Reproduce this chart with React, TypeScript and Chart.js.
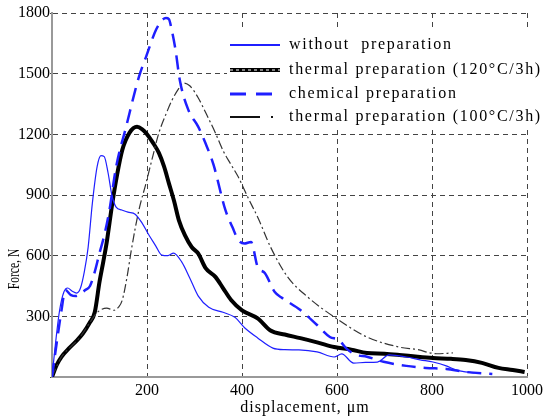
import React, { useEffect, useRef } from "react";
import { Chart, registerables } from "chart.js";

Chart.register(...registerables);

// ---- data (displacement in µm, force in N) ----
const withoutX = [0, 8, 16, 25, 33, 42, 52, 60, 68, 76, 85, 95, 103, 110, 118, 126, 135, 147, 160, 175, 190, 204, 218, 231, 244, 256, 273, 290, 308, 330, 360, 385, 406, 433, 465, 490, 520, 558, 594, 610, 635, 660, 685, 710, 746, 775, 802, 830, 850, 870, 890];
const withoutY = [0, 180, 330, 420, 440, 425, 415, 440, 520, 640, 860, 1040, 1095, 1090, 1010, 900, 840, 826, 815, 805, 760, 702, 650, 603, 600, 613, 569, 490, 400, 345, 320, 295, 242, 193, 143, 135, 134, 124, 99, 114, 69, 72, 74, 109, 99, 85, 74, 55, 35, 25, 20];

const thermal120X = [0, 10, 20, 35, 50, 65, 79, 90, 100, 108, 115, 127, 137, 148, 163, 179, 190, 198, 212, 225, 236, 246, 257, 267, 280, 294, 308, 323, 344, 360, 377, 400, 433, 460, 490, 523, 560, 594, 630, 663, 700, 731, 770, 802, 840, 871, 905, 940, 970, 995];
const thermal120Y = [0, 60, 100, 140, 175, 215, 267, 320, 470, 570, 663, 860, 1000, 1123, 1207, 1237, 1225, 1207, 1160, 1108, 1040, 959, 870, 776, 700, 643, 610, 540, 495, 440, 381, 330, 290, 230, 210, 192, 170, 148, 135, 119, 115, 109, 100, 94, 90, 84, 70, 45, 35, 25];

const chemicalX = [0, 10, 20, 28, 40, 50, 60, 70, 80, 90, 100, 110, 121, 135, 156, 183, 198, 219, 232, 240, 246, 252, 260, 269, 287, 308, 323, 340, 365, 380, 392, 405, 419, 433, 448, 469, 485, 523, 558, 585, 604, 620, 640, 663, 698, 746, 787, 830, 871, 927];
const chemicalY = [0, 170, 330, 430, 405, 400, 410, 430, 450, 520, 613, 700, 826, 1039, 1237, 1484, 1583, 1717, 1765, 1775, 1770, 1717, 1618, 1469, 1321, 1237, 1157, 1050, 826, 740, 678, 660, 668, 544, 514, 420, 390, 331, 257, 198, 183, 140, 110, 100, 75, 55, 45, 40, 25, 15];

const thermal100X = [0, 20, 40, 60, 79, 94, 105, 115, 130, 140, 148, 158, 167, 183, 198, 212, 225, 240, 252, 265, 277, 290, 308, 325, 344, 360, 377, 392, 412, 435, 460, 496, 538, 594, 663, 731, 773, 794, 810, 844];
const thermal100Y = [0, 100, 150, 200, 267, 316, 335, 341, 330, 345, 381, 495, 628, 826, 959, 1090, 1207, 1300, 1366, 1420, 1454, 1440, 1380, 1300, 1207, 1120, 1050, 990, 890, 780, 643, 495, 396, 297, 198, 148, 134, 120, 115, 119];

const seriesLabels = [
  "without  preparation",
  "thermal preparation (120°C/3h)",
  "chemical preparation",
  "thermal preparation (100°C/3h)",
];

const xTickValues = [0, 200, 400, 600, 800, 1000];
const yTickValues = [0, 300, 600, 900, 1200, 1500, 1800];

const xTitle = "displacement, μm";
const yTitle = "Force, N";

const SERIF = '"Liberation Serif", "Times New Roman", serif';
const BLUE = "#1f1fff";

const pts = (xs: number[], ys: number[]) => xs.map((x, i) => ({ x, y: ys[i] }));

const overlayPlugin = {
  id: "overlay",
  afterDraw(chart: any) {
    const ctx: CanvasRenderingContext2D = chart.ctx;
    // y axis title (condensed like the reference)
    ctx.save();
    ctx.translate(15, 269);
    ctx.rotate(-Math.PI / 2);
    ctx.scale(0.68, 1);
    ctx.font = `17px ${SERIF}`;
    ctx.textAlign = "center";
    ctx.textBaseline = "middle";
    ctx.fillStyle = "#000";
    ctx.fillText(yTitle, 0, 0);
    ctx.restore();

    // x axis title
    ctx.save();
    ctx.font = `16px ${SERIF}`;
    (ctx as any).letterSpacing = "1px";
    ctx.textAlign = "center";
    ctx.textBaseline = "middle";
    ctx.fillStyle = "#000";
    ctx.fillText(xTitle, 305, 408);
    ctx.restore();

    // legend box
    ctx.save();
    ctx.fillStyle = "#fff";
    ctx.fillRect(227, 28, 320, 102);
    const rows = [45, 70, 94, 117];
    const x0 = 230, x1 = 280;
    ctx.lineCap = "butt";
    // row 1: solid blue
    ctx.strokeStyle = BLUE;
    ctx.lineWidth = 2;
    ctx.beginPath(); ctx.moveTo(x0, rows[0]); ctx.lineTo(x1, rows[0]); ctx.stroke();
    // row 2: thick black with white dashes
    ctx.strokeStyle = "#000";
    ctx.lineWidth = 4;
    ctx.beginPath(); ctx.moveTo(x0, rows[1]); ctx.lineTo(x1, rows[1]); ctx.stroke();
    ctx.strokeStyle = "#fff";
    ctx.lineWidth = 1;
    ctx.setLineDash([3, 3]);
    ctx.beginPath(); ctx.moveTo(x0, rows[1]); ctx.lineTo(x1, rows[1]); ctx.stroke();
    // row 3: dashed blue
    ctx.strokeStyle = BLUE;
    ctx.lineWidth = 3;
    ctx.setLineDash([16, 10]);
    ctx.beginPath(); ctx.moveTo(x0, rows[2]); ctx.lineTo(x1 - 8, rows[2]); ctx.stroke();
    // row 4: dash-dot black
    ctx.strokeStyle = "#111";
    ctx.lineWidth = 2;
    ctx.setLineDash([30, 11, 2, 20]);
    ctx.beginPath(); ctx.moveTo(x0, rows[3]); ctx.lineTo(x1, rows[3]); ctx.stroke();
    ctx.setLineDash([]);

    ctx.fillStyle = "#000";
    ctx.font = `16px ${SERIF}`;
    (ctx as any).letterSpacing = "1.7px";
    ctx.textAlign = "left";
    ctx.textBaseline = "middle";
    seriesLabels.forEach((t, i) => ctx.fillText(t, 289, rows[i]));
    ctx.restore();
  },
};

export default function App() {
  const ref = useRef<HTMLCanvasElement | null>(null);

  useEffect(() => {
    if (!ref.current) return;
    const tickFont = { family: SERIF, size: 16 };
    const chart = new Chart(ref.current, {
      type: "line",
      data: {
        datasets: [
          {
            label: seriesLabels[0],
            data: pts(withoutX, withoutY),
            borderColor: BLUE,
            borderWidth: 1.2,
            pointRadius: 0,
            cubicInterpolationMode: "monotone",
            fill: false,
          },
          {
            label: seriesLabels[2],
            data: pts(chemicalX, chemicalY),
            borderColor: BLUE,
            borderWidth: 2.5,
            borderDash: [14, 8],
            pointRadius: 0,
            cubicInterpolationMode: "monotone",
            fill: false,
          },
          {
            label: seriesLabels[3],
            data: pts(thermal100X, thermal100Y),
            borderColor: "#333",
            borderWidth: 1.2,
            borderDash: [9, 3, 2, 3],
            pointRadius: 0,
            cubicInterpolationMode: "monotone",
            fill: false,
          },
          {
            label: seriesLabels[1],
            data: pts(thermal120X, thermal120Y),
            borderColor: "#000",
            borderWidth: 4,
            pointRadius: 0,
            cubicInterpolationMode: "monotone",
            fill: false,
          },
          {
            label: seriesLabels[1] + " (highlight)",
            data: pts(thermal120X, thermal120Y),
            borderColor: "rgba(255,255,255,0.9)",
            borderWidth: 1,
            borderDash: [1, 14],
            pointRadius: 0,
            cubicInterpolationMode: "monotone",
            fill: false,
          },
        ],
      },
      options: {
        responsive: false,
        animation: false,
        events: [],
        layout: { padding: { top: 13, right: 15, left: 0, bottom: 0 }, autoPadding: false },
        plugins: { legend: { display: false }, tooltip: { enabled: false } },
        scales: {
          x: {
            type: "linear",
            min: 0,
            max: 1000,
            afterFit: (s: any) => { s.height = 42; },
            afterBuildTicks: (s: any) => { s.ticks = xTickValues.map((v) => ({ value: v })); },
            ticks: {
              callback: (v: any) => (v === 0 ? "" : String(v)),
              font: tickFont,
              color: "#000",
              padding: 4,
              maxRotation: 0,
              autoSkip: false,
            },
            grid: { color: "#444", lineWidth: 1, drawTicks: false },
            border: { display: true, color: "#999", width: 2, dash: [5, 4] },
          },
          y: {
            type: "linear",
            min: 0,
            max: 1800,
            afterFit: (s: any) => { s.width = 52; },
            afterBuildTicks: (s: any) => { s.ticks = yTickValues.map((v) => ({ value: v })); },
            ticks: {
              callback: (v: any) => (v === 0 ? "" : String(v)),
              font: tickFont,
              color: "#000",
              padding: 0,
              autoSkip: false,
            },
            grid: { color: "#444", lineWidth: 1, drawTicks: true, tickLength: 2, tickBorderDash: [] },
            border: { display: true, color: "#999", width: 2, dash: [5, 4] },
          },
        },
      },
      plugins: [overlayPlugin],
    } as any);
    return () => chart.destroy();
  }, []);

  return (
    <div style={{ position: "fixed", left: 0, top: 0, width: 547, height: 419, background: "#fff" }}>
      <canvas ref={ref} width={547} height={419} style={{ width: 547, height: 419, display: "block" }} />
    </div>
  );
}
